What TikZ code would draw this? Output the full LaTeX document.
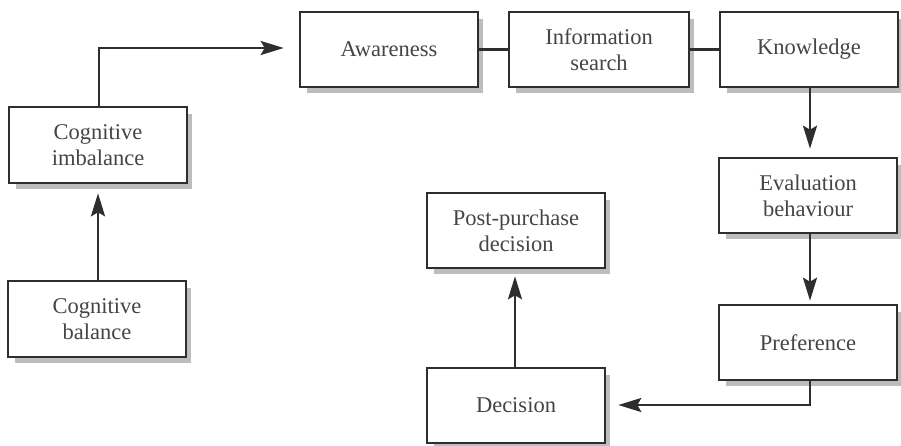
\documentclass[tikz,border=0pt]{standalone}
\usepackage{fontspec}
\setmainfont{Liberation Serif}
\usetikzlibrary{arrows.meta,calc,backgrounds}
\definecolor{ink}{HTML}{2E2E2E}
\definecolor{txt}{HTML}{454545}
\definecolor{haze}{HTML}{BDBDBD}
\begin{document}
\begin{tikzpicture}[x=1pt,y=-1pt,
  stage/.style={draw=ink, line width=2.6pt, fill=white, align=center,
    minimum width=178pt, minimum height=75pt, inner sep=0pt,
    text=txt, font=\fontsize{22.5}{26}\selectfont},
  stageshadow/.style={fill=haze},
  link/.style={draw=ink, line width=2.6pt},
  flow/.style={link, -{Stealth[length=23pt,width=14pt,inset=4pt]}}]
  \useasboundingbox (0,0) rectangle (901,445);

  % process stages
  \node[stage] (aware) at (389,49.5) {Awareness};
  \node[stage, minimum width=180pt] (search) at (599,49.5) {Information\\search};
  \node[stage] (know) at (809,49.5) {Knowledge};
  \node[stage] (eval) at (808,195.5) {Evaluation\\behaviour};
  \node[stage] (pref) at (808,342.5) {Preference};
  \node[stage] (dec) at (516,405.5) {Decision};
  \node[stage] (post) at (516,230.5) {Post-purchase\\decision};
  \node[stage, minimum height=76pt] (imbal) at (98,145) {Cognitive\\imbalance};
  \node[stage, minimum height=76pt] (bal) at (97,319) {Cognitive\\balance};

  % soft shadow below and right of each stage
  \begin{scope}[on background layer]
    \foreach \n in {aware,search,know,eval,pref,dec,post,imbal,bal}
      \fill[stageshadow] ($(\n.north west)+(8,8)$) rectangle ($(\n.south east)+(4,5)$);
  \end{scope}

  % connectors
  \coordinate (turn) at (99,48);
  \draw[flow, shorten >=15pt] (imbal.north -| turn) -- (turn) -- (aware.west |- turn);
  \draw[flow, shorten >=9pt] (bal.north -| 98,0) -- (imbal.south -| 98,0);
  \draw[link] (aware.east) -- (search.west);
  \draw[link] (search.east) -- (know.west);
  \draw[flow, shorten >=8pt] (know.south -| 810,0) -- (eval.north -| 810,0);
  \draw[flow, shorten >=3pt] (eval.south -| 810,0) -- (pref.north -| 810,0);
  \coordinate (back) at (810,405);
  \draw[flow, shorten >=12pt] (pref.south -| back) -- (back) -- (dec.east |- back);
  \draw[flow, shorten >=7pt] (dec.north -| 515,0) -- (post.south -| 515,0);
\end{tikzpicture}
\end{document}
